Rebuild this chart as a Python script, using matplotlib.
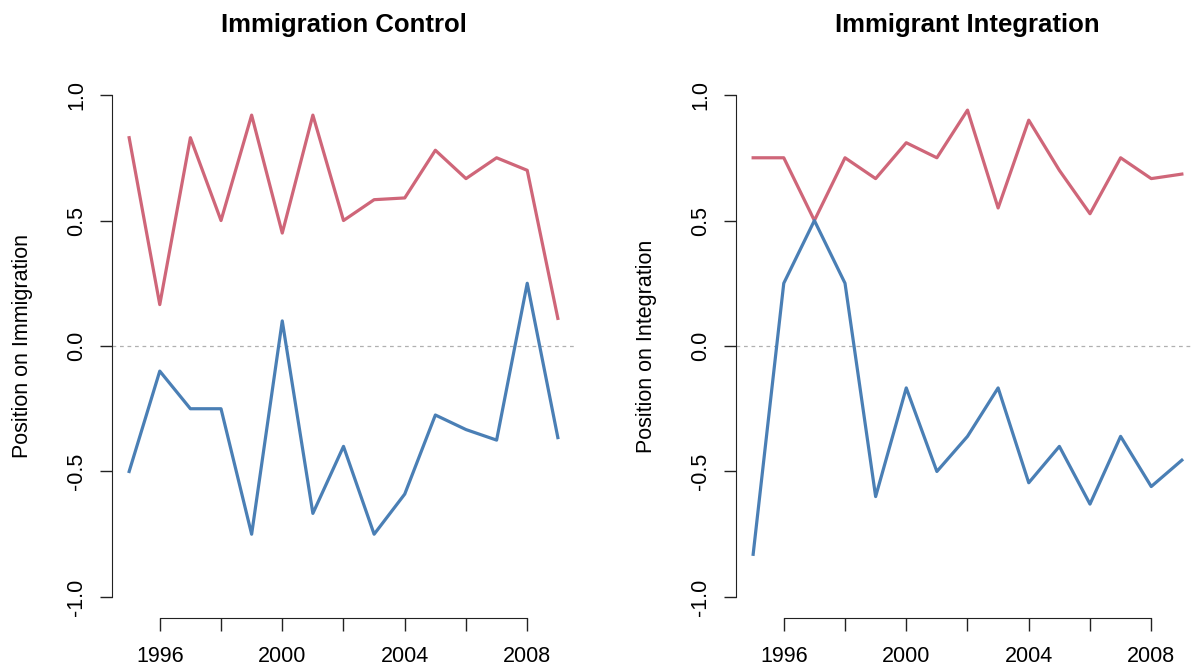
import numpy as np
import matplotlib
matplotlib.use('Agg')
from matplotlib import pyplot as plt

plt.rcParams['font.family'] = ['Liberation Sans', 'DejaVu Sans']

years = list(range(1995, 2010))

## Immigration Control
ctrl_red = [0.83, 0.165, 0.83, 0.5, 0.92, 0.45, 0.92, 0.5, 0.583, 0.59, 0.78, 0.667, 0.75, 0.70, 0.11]
ctrl_blue = [-0.5, -0.1, -0.25, -0.25, -0.75, 0.1, -0.667, -0.4, -0.75, -0.59, -0.275, -0.333, -0.375, 0.25, -0.365]

## Immigrant Integration
integ_red = [0.75, 0.75, 0.5, 0.75, 0.667, 0.81, 0.75, 0.94, 0.55, 0.90, 0.70, 0.527, 0.75, 0.667, 0.685]
integ_blue = [-0.83, 0.25, 0.5, 0.25, -0.6, -0.167, -0.5, -0.36, -0.167, -0.545, -0.40, -0.63, -0.36, -0.56, -0.455]

titles = ['Immigration Control', 'Immigrant Integration']
ylabels = ['Position on Immigration', 'Position on Integration']
xticks = list(range(1996, 2009, 2))
xlabels = ['1996', '', '2000', '', '2004', '', '2008']
yticks = [-1.0, -0.5, 0.0, 0.5, 1.0]

RED = '#CF6679'
BLUE = '#4A7FB5'

W, H = 1193, 669
fig = plt.figure(figsize=(W / 100, H / 100), dpi=100)

# axes boxes in pixels: left, right
boxes = [(112, 575), (736, 1199)]
top, bottom = 85, 607

series = [(ctrl_red, ctrl_blue), (integ_red, integ_blue)]

for i in range(2):
    l, r = boxes[i]
    ax = fig.add_axes([l / W, 1 - bottom / H, (r - l) / W, (bottom - top) / H])
    red, blue = series[i]
    ax.axhline(0, color='#b0b0b0', lw=0.9, ls=(0, (3, 3)))
    ax.plot(years, red, color=RED, lw=2.3)
    ax.plot(years, blue, color=BLUE, lw=2.3)
    ax.set_xlim(1995 - 0.56, 2009 + 0.56)
    ax.set_ylim(-1.04, 1.04)
    for s in ['top', 'right']:
        ax.spines[s].set_visible(False)
    ax.spines['bottom'].set_position(('outward', 8))
    ax.spines['bottom'].set_bounds(1996, 2008)
    ax.spines['left'].set_bounds(-1, 1)
    ax.spines['left'].set_color('#222222')
    ax.spines['bottom'].set_color('#222222')
    ax.set_xticks(xticks)
    ax.set_xticklabels(xlabels)
    ax.set_yticks(yticks)
    ax.set_yticklabels(['-1.0', '-0.5', '0.0', '0.5', '1.0'], rotation=90, va='center')
    ax.tick_params(length=9, width=1, color='#222222', labelsize=15.5, pad=9)
    ax.tick_params(axis='x', pad=11)
    ax.set_ylabel(ylabels[i], fontsize=15.5, labelpad=24)
    ax.set_title(titles[i], fontsize=18.5, fontweight='bold', pad=38)

fig.savefig('out.png', dpi=100)
